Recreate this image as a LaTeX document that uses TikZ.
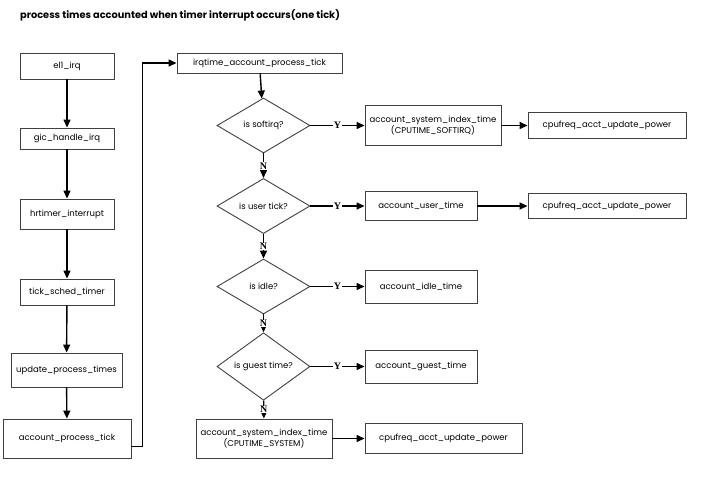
\documentclass[tikz,border=0pt]{standalone}
\usepackage{fontspec}
\setmainfont{Poppins}
\newfontfamily\ynfont{Liberation Serif}
\usetikzlibrary{shapes.geometric,arrows.meta}
\begin{document}
\begin{tikzpicture}[x=1pt,y=-1pt,
  box/.style={draw=black!75,line width=0.9pt,inner sep=1pt,align=center,font=\fontsize{8.5}{10}\selectfont},
  dia/.style={draw=black!75,line width=0.9pt,diamond,inner sep=0pt,minimum width=93pt,minimum height=55pt,font=\fontsize{8.5}{10}\selectfont},
  arr/.style={line width=1.4pt,-{Triangle[length=8pt,width=7pt]}},
  yn/.style={fill=white,inner sep=0.5pt,font=\ynfont\bfseries\fontsize{10}{10}\selectfont}]
\useasboundingbox (0,0) rectangle (712,480);
\node[anchor=west,inner sep=0pt,font=\bfseries\fontsize{9.8}{12}\selectfont] (title) at (20,15) {process times accounted when timer interrupt occurs(one tick)};
% left column
\node[box,minimum width=94pt,minimum height=26pt] (el1) at (67,66) {el1\_irq};
\node[box,minimum width=94pt,minimum height=21pt] (gic) at (67,138.5) {gic\_handle\_irq};
\node[box,minimum width=94pt,minimum height=30pt] (hrt) at (67,214) {hrtimer\_interrupt};
\node[box,minimum width=94pt,minimum height=26pt] (tick) at (67,292) {tick\_sched\_timer};
\node[box,minimum width=111pt,minimum height=34pt] (upd) at (66.5,370) {update\_process\_times};
\node[box,minimum width=128pt,minimum height=39pt] (apt) at (67,438.5) {account\_process\_tick};
\draw[arr] (el1) -- (gic);
\draw[arr] (gic) -- (hrt);
\draw[arr] (hrt) -- (tick);
\draw[arr] (tick) -- (upd);
\draw[arr] (upd) -- (apt);
% right part
\node[box,minimum width=165pt,minimum height=20pt] (irq) at (259.5,63) {irqtime\_account\_process\_tick};
\draw[arr] ([yshift=-8pt]apt.east) -- ++(11,0) |- (irq.west);
\node[dia] (d1) at (263.5,125.5) {is softirq?};
\node[dia] (d2) at (263.5,206) {is user tick?};
\node[dia] (d3) at (263.5,286.5) {is idle?};
\node[dia] (d4) at (263.5,366.5) {is guest time?};
\node[box,minimum width=136pt,minimum height=39pt] (sys2) at (264,438.5) {account\_system\_index\_time\\(CPUTIME\_SYSTEM)};
\draw[arr] (irq) -- (d1);
\draw[arr] (d1) -- node[yn]{N} (d2);
\draw[arr] (d2) -- node[yn]{N} (d3);
\draw[arr] (d3) -- node[yn]{N} (d4);
\draw[arr] (d4) -- node[yn]{N} (sys2);
\node[box,minimum width=136pt,minimum height=40pt] (sys1) at (433,125.5) {account\_system\_index\_time\\(CPUTIME\_SOFTIRQ)};
\node[box,minimum width=112pt,minimum height=29pt] (user) at (421,206) {account\_user\_time};
\node[box,minimum width=112pt,minimum height=33pt] (idle) at (421,286.5) {account\_idle\_time};
\node[box,minimum width=112pt,minimum height=33pt] (guest) at (421,366.5) {account\_guest\_time};
\draw[arr] (d1) -- node[yn]{Y} (sys1);
\draw[arr] (d2) -- node[yn]{Y} (user);
\draw[arr] (d3) -- node[yn]{Y} (idle);
\draw[arr] (d4) -- node[yn]{Y} (guest);
\node[box,minimum width=158pt,minimum height=26pt] (cpu1) at (607,125.5) {cpufreq\_acct\_update\_power};
\node[box,minimum width=158pt,minimum height=25pt] (cpu2) at (607,206) {cpufreq\_acct\_update\_power};
\node[box,minimum width=157pt,minimum height=30pt] (cpu3) at (443.5,438.5) {cpufreq\_acct\_update\_power};
\draw[arr] (sys1) -- (cpu1);
\draw[arr] (user) -- (cpu2);
\draw[arr] (sys2) -- (cpu3);
\end{tikzpicture}
\end{document}
